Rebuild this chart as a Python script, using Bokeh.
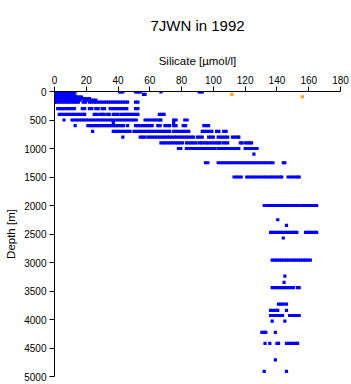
from bokeh.plotting import figure
from bokeh.models import Range1d, FixedTicker, ColumnDataSource
from bokeh.embed import file_html
from bokeh.resources import INLINE

# ---- data: bottle depth levels [m] and silicate values [µmol/l] observed at each ----
depth_levels = [5, 20, 35, 50, 75, 100, 125, 150, 185, 300, 400, 500, 545, 600, 700,
                800, 900, 1000, 1100, 1250, 1500, 2000, 2250, 2350, 2470, 2570, 2960,
                3240, 3350, 3440, 3730, 3840, 3930, 4030, 4225, 4420, 4710, 4910]

silicate_at_level = [
    [0, 1, 2, 3, 4, 5, 6, 7, 8, 9, 10, 11, 12, 13, 41, 42, 43, 51, 52, 53, 54, 67, 91, 92, 93],
    [0, 1, 2, 3, 4, 5, 6, 7, 8, 9, 10, 11, 12],
    [0, 1, 2, 3, 4, 5, 6, 7, 8, 9, 10, 11, 12],
    [0, 1, 2, 3, 4, 5, 6, 7, 8, 9, 10, 11, 56, 57],
    [0, 1, 2, 3, 4, 5, 6, 7, 8, 9, 10, 11, 12, 13],
    [0, 1, 2, 3, 4, 5, 6, 7, 8, 9, 10, 11, 12, 13, 14, 15, 16, 17],
    [1, 2.5, 4, 5.5, 7, 8.5, 10, 11.5, 13, 14.5, 16, 17.5, 19, 20.5, 22],
    [1, 2.5, 4, 5.5, 7, 8.5, 10, 11.5, 13, 14.5, 16, 19, 20.5, 23, 24.5, 26],
    [0, 1.5, 3, 4.5, 6, 7.5, 9, 10.5, 12, 13.5, 15, 18, 19.5, 22, 23.5, 25, 26.5, 28, 29.5,
     31, 32.5, 34, 35.5, 37, 38.5, 40, 41.5, 43, 44.5, 46, 51, 52.5],
    [2, 3.5, 5, 6.5, 8, 9.5, 11, 12.5, 17.5, 19, 22, 23.5, 26, 27.5, 30, 31.5, 35, 36.5,
     38, 39.5, 41, 42.5, 44, 45.5, 51, 52.5],
    [3, 4.5, 6, 7.5, 9, 10.5, 12, 13.5, 15, 16.5, 18, 19, 25, 26.5, 28.5, 30, 31, 33, 34.5,
     37, 38.5, 40, 42, 43.5, 45, 46.5, 48, 49.5, 51, 52.5, 66, 67.5, 69],
    [6, 11, 12.5, 14, 15.5, 17, 18.5, 20, 21.5, 23, 24.5, 26, 27.5, 29, 30.5, 32, 33.5, 35,
     36.5, 38, 39.5, 41, 42.5, 44, 45.5, 47, 48.5, 50, 51.5, 57, 58.5, 60, 61.5, 63, 64.5,
     66, 67, 75, 76.5, 82, 83.5],
    [37, 75],
    [13, 21, 22.5, 24, 25.5, 27, 28.5, 30, 31.5, 33, 34.5, 36, 37.5, 39, 40.5, 42, 43.5, 46,
     51, 52.5, 54, 55.5, 57, 58.5, 60, 61.5, 65, 66.5, 69.5, 71, 72.5, 75, 76.5, 81, 82.5,
     94, 95.5, 97],
    [24, 37, 38.5, 40, 41.5, 43, 44.5, 46, 47.5, 50, 51.5, 53, 54.5, 56, 57.5, 59, 60.5, 62,
     63.5, 65, 66.5, 68, 69.5, 71, 72.5, 75, 76.5, 78, 80, 81.5, 83, 84.5, 93, 94.5, 96,
     97.5, 99, 102, 103.5, 106.5, 108],
    [43, 54, 55.5, 57, 59, 60.5, 62, 63.5, 65, 66.5, 68, 69.5, 71, 72.5, 74, 75.5, 77, 78.5,
     80, 81.5, 83, 84.5, 86, 87.5, 90, 91.5, 93, 97, 98.5, 100, 103, 104.5, 106, 107.5, 109,
     112, 113.5, 115, 116],
    [67, 68.5, 70, 71.5, 73, 74.5, 76, 77.5, 79, 80.5, 83, 84.5, 86, 87.5, 89, 91, 92.5, 94,
     95.5, 97, 98.5, 100, 101.5, 103, 104, 106, 107.5, 109, 117, 118, 120, 121.5, 123, 124],
    [78, 79.5, 83, 84.5, 86, 87.5, 89, 90.5, 92, 93.5, 95, 96.5, 98, 99.5, 101, 103, 104.5,
     106, 107.5, 109, 110.5, 112, 113.5, 115, 116, 120, 121.5, 123, 124.5, 126, 127.5],
    [125.5],
    [95, 96.5, 103, 104.5, 106, 107.5, 109, 110.5, 112, 113.5, 115, 116.5, 118, 119.5, 121,
     122.5, 124, 125.5, 127, 128.5, 130, 131.5, 133, 134.5, 136, 137.5, 144, 145],
    [113, 114.5, 116, 117.5, 121, 122.5, 124, 125.5, 127, 128.5, 130, 131.5, 133, 134.5, 136,
     137.5, 139, 140.5, 142, 143, 147, 148.5, 150, 151.5, 153, 154],
    [132, 134, 135.5, 137, 138.5, 140, 141.5, 143, 144.5, 146, 147.5, 149, 150, 151.5, 153,
     155, 156.5, 158, 159, 160.5, 162, 163.5, 165],
    [140.5],
    [146],
    [136, 137.5, 139, 140.5, 142, 143.5, 145, 146.5, 148, 149.5, 151, 152.5, 158, 159.5, 161,
     162.5, 164, 165],
    [144],
    [137, 138.5, 140, 141.5, 143, 144.5, 146, 147.5, 149, 150.5, 152, 153.5, 155, 156.5, 158,
     159.5, 161],
    [145],
    [144.5],
    [137, 138.5, 140, 141.5, 143, 144.5, 146, 147.5, 149, 150.5, 153, 154],
    [141, 142.5, 144, 146],
    [136, 137.5, 139, 140.5, 146],
    [136, 137.5, 139, 140.5, 142, 143.5, 148, 149.5, 151, 152.5, 154],
    [137, 145],
    [130.5, 132, 133, 139],
    [132.5, 135.5, 140, 141, 146, 147.5, 149, 150.5, 152, 153],
    [139],
    [132, 146],
]

flag_depth = [50, 92]
flag_silicate = [111.6, 156]

x_ticks = [0, 20, 40, 60, 80, 100, 120, 140, 160, 180]
y_ticks = [0, 500, 1000, 1500, 2000, 2500, 3000, 3500, 4000, 4500, 5000]
title_text = "7JWN in 1992"

# ---- flatten ----
xs, ys = [], []
for d, vals in zip(depth_levels, silicate_at_level):
    for v in vals:
        xs.append(v)
        ys.append(d)

FONT = "Liberation Sans"

p = figure(width=351, height=384, x_range=Range1d(0, 180), y_range=Range1d(5000, 0),
           x_axis_location="above", output_backend="svg", toolbar_location=None,
           title=title_text)
p.min_border_left = 54
p.min_border_right = 11
p.min_border_top = 91
p.min_border_bottom = 8
p.outline_line_color = None
p.background_fill_color = "white"
p.border_fill_color = "white"
p.xgrid.visible = False
p.ygrid.visible = False

p.title.align = "center"
p.title.vertical_align = "top"
p.title.text_font = FONT
p.title.text_font_size = "15px"
p.title.text_font_style = "normal"
p.title.text_color = "black"
p.title.standoff = 32

for ax, ticks, lab in ((p.xaxis[0], x_ticks, "Silicate [µmol/l]"), (p.yaxis[0], y_ticks, "Depth [m]")):
    ax.ticker = FixedTicker(ticks=ticks)
    ax.axis_label = lab
    ax.axis_label_text_font = FONT
    ax.axis_label_text_font_size = "11.5px"
    ax.axis_label_text_font_style = "normal"
    ax.axis_label_text_color = "black"
    ax.major_label_text_font = FONT
    ax.major_label_text_font_size = "10px"
    ax.major_label_text_color = "black"
    ax.major_tick_out = 5
    ax.major_tick_in = 0
    ax.minor_tick_out = 0
    ax.minor_tick_in = 0
    ax.axis_line_color = "black"
    ax.major_tick_line_color = "black"
    ax.major_label_standoff = 3

p.xaxis[0].axis_label_standoff = 6
p.yaxis[0].axis_label_standoff = 4

src = ColumnDataSource(dict(x=xs, y=ys))
p.scatter("x", "y", source=src, marker="square", size=3.2, fill_color="#0000ff", line_color=None)
p.scatter(flag_silicate, flag_depth, marker="square", size=3.2, fill_color="#ffa500", line_color=None)

open("out.html", "w").write(file_html(p, INLINE))
